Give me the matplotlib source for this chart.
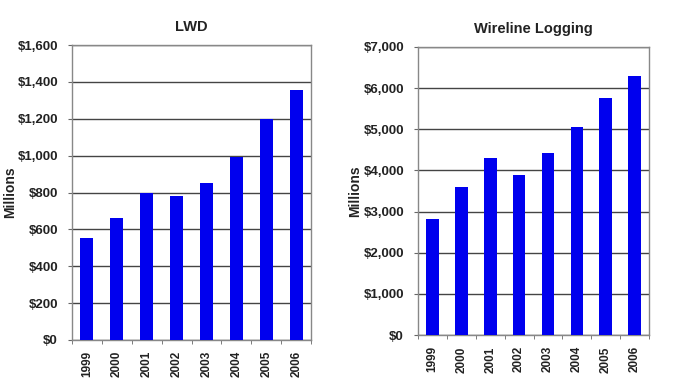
import matplotlib
matplotlib.use("Agg")
import matplotlib.pyplot as plt
from matplotlib.ticker import FuncFormatter

plt.rcParams['font.family'] = ['Liberation Sans', 'DejaVu Sans']

years = ["1999", "2000", "2001", "2002", "2003", "2004", "2005", "2006"]
lwd = [555, 660, 800, 780, 850, 995, 1200, 1355]
wireline = [2830, 3590, 4290, 3890, 4420, 5060, 5750, 6300]

fig = plt.figure(figsize=(6.84, 3.82), dpi=100)
ax1 = fig.add_axes([0.105, 0.11, 0.35, 0.772])
ax2 = fig.add_axes([0.611, 0.123, 0.338, 0.754])

def dollars(v, pos):
    return "${:,.0f}".format(v)

def style(ax, values, title, ymax, step, label_x):
    x = range(len(values))
    ax.bar(x, values, width=0.44, color="#0000ee", zorder=3)
    ax.set_xlim(-0.5, len(values) - 0.5)
    ax.set_ylim(0, ymax)
    ax.set_yticks(range(0, ymax + 1, step))
    ax.yaxis.set_major_formatter(FuncFormatter(dollars))
    ax.grid(axis="y", color="#444444", linewidth=1.0, zorder=0)
    ax.set_xticks(list(x))
    ax.set_xticklabels(years, rotation=90, fontsize=8.5, fontweight="bold",
                       color="#222222")
    # tick marks between categories
    ax.set_xticks([i - 0.5 for i in range(len(values) + 1)], minor=True)
    ax.tick_params(axis="x", which="major", length=0, pad=8)
    ax.tick_params(axis="x", which="minor", length=3, color="#666666", direction="out")
    ax.tick_params(axis="y", length=3, color="#666666", labelsize=9.5, pad=7,
                   labelcolor="#222222")
    for lab in ax.get_yticklabels():
        lab.set_fontweight("bold")
    for s in ax.spines.values():
        s.set_color("#888888")
        s.set_linewidth(1.0)
    ax.set_ylabel("Millions", fontsize=10, fontweight="bold", color="#222222")
    ax.yaxis.set_label_coords(label_x, 0.5)
    ax.set_title(title, fontsize=10.5, fontweight="bold", pad=10, color="#222222")

style(ax1, lwd, "LWD", 1600, 200, -0.23)
style(ax2, wireline, "Wireline Logging", 7000, 1000, -0.24)

fig.savefig("out.png", dpi=100)
